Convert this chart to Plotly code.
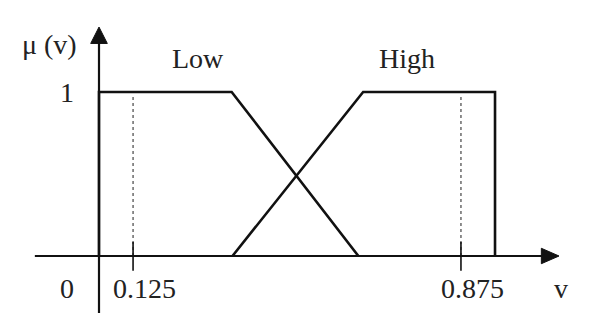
import plotly.graph_objects as go

# Membership function data (schematic, normalised drawing units)
low_x = [0.0, 0.0, 0.335, 0.655]
low_y = [0.0, 1.0, 1.0, 0.0]
high_x = [0.337, 0.667, 1.0, 1.0]
high_y = [0.0, 1.0, 1.0, 0.0]

# Reference points (position in drawing units, printed label)
ref_pos = [0.086, 0.914]
ref_labels = ["0.125", "0.875"]
set_names = ["Low", "High"]
set_label_x = [0.25, 0.778]

W, H = 596, 313
X_RANGE = [-0.25, 1.255]
Y_RANGE = [-0.3476, 1.561]

FONT = "Liberation Serif, Times New Roman, serif"
FS = 28

fig = go.Figure()

# Dotted reference lines
for xp in ref_pos:
    fig.add_trace(go.Scatter(x=[xp, xp], y=[0.0, 0.98], mode="lines",
                             line=dict(color="#444", width=1.2, dash="dot"),
                             hoverinfo="skip", showlegend=False))

# Membership curves
fig.add_trace(go.Scatter(x=low_x, y=low_y, mode="lines", name="Low",
                         line=dict(color="#111", width=2.6), showlegend=False))
fig.add_trace(go.Scatter(x=high_x, y=high_y, mode="lines", name="High",
                         line=dict(color="#111", width=2.6), showlegend=False))

shapes = []
# x axis line
shapes.append(dict(type="line", x0=-0.162, x1=1.125, y0=0, y1=0,
                   line=dict(color="#111", width=2.2)))
# y axis line
shapes.append(dict(type="line", x0=0, x1=0, y0=Y_RANGE[0], y1=1.32,
                   line=dict(color="#111", width=2.2)))
# arrowheads (triangles)
shapes.append(dict(type="path",
                   path="M 1.117 0.047 L 1.1616 0 L 1.117 -0.047 Z",
                   fillcolor="#111", line=dict(color="#111", width=1)))
shapes.append(dict(type="path",
                   path="M -0.021 1.296 L 0 1.396 L 0.021 1.296 Z",
                   fillcolor="#111", line=dict(color="#111", width=1)))
# solid ticks at reference points
for xp in ref_pos:
    shapes.append(dict(type="line", x0=xp, x1=xp, y0=-0.09, y1=0.085,
                       line=dict(color="#111", width=1.6)))
fig.update_layout(shapes=shapes)

ann = []
def txt(x, y, t, xanchor="center"):
    ann.append(dict(x=x, y=y, text=t, showarrow=False, xanchor=xanchor,
                    yanchor="middle", font=dict(family=FONT, size=FS, color="#222")))

txt(-0.124, 1.287, "μ (v)")
txt(-0.058, 1.0, "1", xanchor="right")
txt(-0.058, -0.2, "0", xanchor="right")
for xp, lab in zip(ref_pos, ref_labels):
    txt(xp + 0.03, -0.2, lab)
for xl, nm in zip(set_label_x, set_names):
    txt(xl, 1.207, nm)
txt(1.167, -0.2, "v")
fig.update_layout(annotations=ann)

fig.update_layout(
    width=W, height=H,
    margin=dict(l=0, r=0, t=0, b=0),
    paper_bgcolor="white", plot_bgcolor="white",
    xaxis=dict(range=X_RANGE, visible=False, fixedrange=True),
    yaxis=dict(range=Y_RANGE, visible=False, fixedrange=True),
    showlegend=False,
)

fig.write_html("out.html", config={"displayModeBar": False})
